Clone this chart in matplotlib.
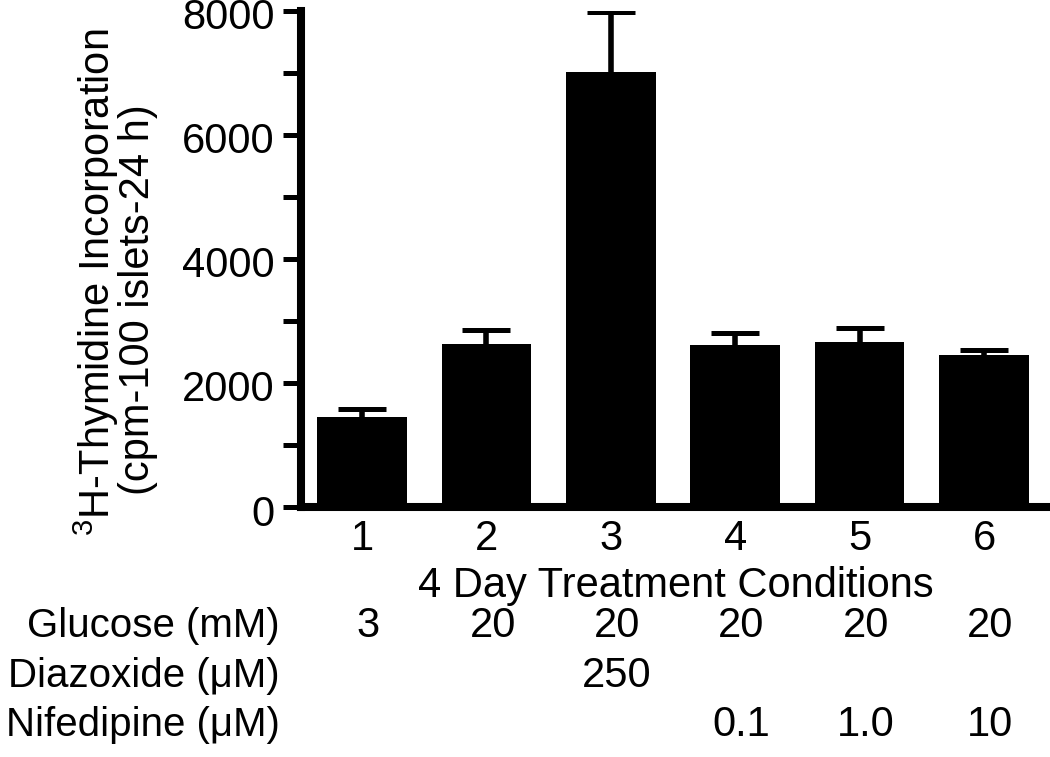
import numpy as np
import matplotlib
matplotlib.use("Agg")
import matplotlib.pyplot as plt
import matplotlib.transforms as mtransforms

# Datos
condiciones = ["1", "2", "3", "4", "5", "6"]
incorporacion = [1455, 2622, 7014, 2606, 2664, 2454]
error_sup = [124, 233, 954, 201, 220, 76]

glucosa = ["3", "20", "20", "20", "20", "20"]
diazoxido = ["", "", "250", "", "", ""]
nifedipina = ["", "", "", "0.1", "1.0", "10"]

plt.rcParams['font.family'] = ['Liberation Sans', 'DejaVu Sans']
plt.rcParams['mathtext.default'] = 'regular'
fs = 30

W, H = 1050, 757
fig = plt.figure(figsize=(W / 100, H / 100), dpi=100)
ax = fig.add_axes([301 / W, 1 - 507 / H, 1 - 301 / W, (507 - 10.5) / H])

x = np.arange(1, len(condiciones) + 1)
ax.bar(x, incorporacion, width=0.72, color="black", edgecolor="none", zorder=2)
_, caps, _ = ax.errorbar(x, incorporacion, yerr=[np.zeros(len(x)), error_sup],
                         fmt="none", ecolor="black", elinewidth=4, capsize=17,
                         capthick=3.6, zorder=1)
caps[0].set_visible(False)  # solo la barra de error superior

ax.set_xlim(0.51, 6.53)
ax.set_ylim(0, 8000)
ax.set_yticks([0, 2000, 4000, 6000, 8000])
ax.set_yticks([1000, 3000, 5000, 7000], minor=True)
ax.set_xticks(x)
ax.set_xticklabels(condiciones)

for s in ["top", "right"]:
    ax.spines[s].set_visible(False)
ax.spines["left"].set_linewidth(5.8)
ax.spines["bottom"].set_linewidth(5.8)

ax.tick_params(axis="y", which="both", direction="out", length=13, width=3.6,
               labelsize=fs, pad=6)
ax.tick_params(axis="x", length=0, labelsize=fs, pad=9)

# bajar un poco los numeros del eje y para que no se corte el 8000
bajar = mtransforms.ScaledTranslation(0, -3 / 100, fig.dpi_scale_trans)
for lab in ax.get_yticklabels():
    lab.set_transform(lab.get_transform() + bajar)

# Titulo del eje y en dos lineas
fig.text(110 / W, 1 - 282 / H, "$^{3}$H-Thymidine Incorporation", rotation=90,
         rotation_mode="anchor", ha="center", va="baseline", fontsize=fs)
fig.text(149 / W, 1 - 300 / H, "(cpm-100 islets-24 h)", rotation=90,
         rotation_mode="anchor", ha="center", va="baseline", fontsize=fs)

fig.text((301 + 1050) / 2 / W, 1 - 597 / H, "4 Day Treatment Conditions",
         ha="center", va="baseline", fontsize=fs)

# Tabla de condiciones debajo del grafico
trans = mtransforms.blended_transform_factory(ax.transData, fig.transFigure)
filas = [("Glucose (mM)", glucosa, 637),
         ("Diazoxide (\u03bcM)", diazoxido, 687),
         ("Nifedipine (\u03bcM)", nifedipina, 736)]
for nombre, valores, yb in filas:
    fig.text(280 / W, 1 - yb / H, nombre, ha="right", va="baseline", fontsize=29)
    for xi, v in zip(x, valores):
        if v:
            ax.text(xi + 0.05, 1 - yb / H, v, transform=trans, ha="center",
                    va="baseline", fontsize=fs)

fig.savefig("out.png", dpi=100)
